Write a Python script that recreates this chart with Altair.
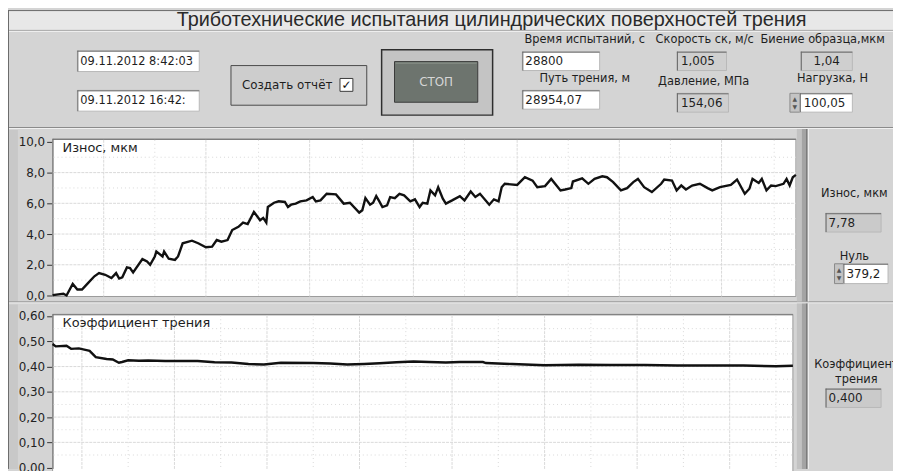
import altair as alt
import pandas as pd

# ---------------- texts / values shown on the panel ----------------
title_text = "Триботехнические испытания цилиндрических поверхностей трения"
start_time = "09.11.2012 8:42:03"
end_time = "09.11.2012 16:42:"
report_label = "Создать отчёт"
stop_label = "СТОП"
test_time_label, test_time_value = "Время испытаний, с", "28800"
path_label, path_value = "Путь трения, м", "28954,07"
speed_label, speed_value = "Скорость ск, м/с", "1,005"
pressure_label, pressure_value = "Давление, МПа", "154,06"
runout_label, runout_value = "Биение образца,мкм", "1,04"
load_label, load_value = "Нагрузка, Н", "100,05"
wear_label = "Износ, мкм"
wear_value = "7,78"
zero_label = "Нуль"
zero_value = "379,2"
friction_label_1 = "Коэффициент"
friction_label_2 = "трения"
friction_title = "Коэффициент трения"
friction_value = "0,400"

# ---------------- series (time in minutes from start) ----------------
wear_time_min = [0, 7, 9, 13, 16, 19, 23, 27, 30, 34, 38, 41, 43, 45, 48, 50, 52, 58, 61, 63,
                 66, 67, 71, 72, 75, 79, 81, 84, 90, 94, 99, 103, 106, 109, 113, 116, 120, 123, 126, 130,
                 134, 136, 138, 139, 143, 146, 150, 152, 154, 157, 160, 164, 168, 170, 173, 177, 183, 188, 192, 198,
                 200, 202, 205, 207, 209, 211, 213, 216, 218, 221, 224, 227, 231, 234, 237, 239, 242, 244, 247, 249,
                 252, 254, 258, 263, 266, 270, 273, 276, 282, 285, 288, 290, 292, 300, 305, 310, 313, 318, 322, 328,
                 331, 335, 336, 342, 346, 350, 355, 358, 362, 367, 371, 375, 378, 382, 387, 393, 395, 400, 403, 406,
                 409, 413, 418, 423, 426, 431, 438, 442, 447, 450, 452, 456, 458, 461, 464, 467, 472, 474, 476, 478, 480]
wear_um = [0.02, 0.11, 0.00, 0.75, 0.39, 0.39, 0.82, 1.25, 1.46, 1.35, 1.14, 1.46, 1.10, 1.18, 1.83, 1.78, 1.50, 2.37, 2.22, 2.00,
           2.54, 2.86, 2.54, 2.86, 2.39, 2.32, 2.54, 3.40, 3.57, 3.40, 3.14, 3.18, 3.61, 3.50, 3.61, 4.26, 4.47, 4.75, 4.65, 5.44,
           4.90, 5.05, 4.75, 5.76, 6.04, 6.13, 6.09, 5.76, 5.91, 5.98, 6.13, 6.19, 6.41, 6.13, 6.19, 6.62, 6.58, 5.98, 6.04, 5.40,
           5.55, 6.34, 5.91, 6.04, 6.47, 6.13, 5.76, 5.87, 6.41, 6.34, 6.62, 6.52, 6.13, 6.26, 5.76, 6.04, 5.98, 6.84, 6.52, 7.05,
           6.30, 5.98, 6.19, 6.47, 6.19, 6.77, 6.41, 6.62, 5.91, 6.26, 6.13, 7.05, 7.27, 7.20, 7.70, 7.48, 7.05, 7.12, 7.59, 6.84,
           6.90, 6.99, 7.42, 7.63, 7.27, 7.59, 7.76, 7.70, 7.38, 6.84, 6.99, 7.38, 7.59, 7.05, 6.73, 7.27, 7.55, 7.48, 6.84, 7.16,
           6.90, 7.16, 7.27, 6.99, 6.84, 7.05, 7.20, 7.55, 6.62, 6.95, 7.59, 7.33, 7.59, 6.84, 7.16, 7.12, 7.27, 7.59, 7.16, 7.70, 7.85]

friction_time_min = [0, 2, 9, 12, 17, 22, 24, 28, 35, 39, 43, 45, 49, 56, 62, 73, 94, 105, 116, 127,
                     137, 148, 169, 180, 191, 202, 212, 223, 234, 244, 255, 264, 279, 281, 298, 319, 341, 362, 384, 405,
                     426, 448, 469, 480]
friction_coef = [0.489, 0.480, 0.482, 0.470, 0.472, 0.465, 0.462, 0.437, 0.430, 0.428, 0.415, 0.418, 0.425, 0.423, 0.424, 0.422,
                 0.422, 0.417, 0.416, 0.410, 0.408, 0.415, 0.414, 0.412, 0.408, 0.410, 0.413, 0.417, 0.420, 0.418, 0.416, 0.418,
                 0.418, 0.414, 0.410, 0.405, 0.407, 0.406, 0.406, 0.404, 0.404, 0.404, 0.401, 0.403]

wear_ticks = [0, 2, 4, 6, 8, 10]
wear_minor = [1, 3, 5, 7, 9]
wear_grid_x = [33, 99, 166, 233, 300, 366, 432]
wear_minor_x = [66, 133, 200, 266, 333, 399, 466]
friction_ticks = [0.0, 0.1, 0.2, 0.3, 0.4, 0.5, 0.6]
friction_minor = [0.05, 0.15, 0.25, 0.35, 0.45, 0.55]
friction_grid_x = [19, 79, 139, 199, 259, 319, 379, 439]
friction_minor_x = [49, 109, 169, 229, 289, 349, 409, 469]

# ---------------- layout helpers (page coords -> chart coords) ----------------
OFF = 8
one = pd.DataFrame({"k": [0]})
UI_FONT = "DejaVu Sans"


def rect(x1, y1, x2, y2, fill, stroke=None, sw=1.0):
    kw = dict(fill=fill)
    if stroke:
        kw.update(stroke=stroke, strokeWidth=sw)
    else:
        kw.update(strokeWidth=0)
    return alt.Chart(one).mark_rect(**kw).encode(
        x=alt.value(x1 - OFF), x2=alt.value(x2 - OFF),
        y=alt.value(y1 - OFF), y2=alt.value(y2 - OFF))


def hline(x1, x2, y, color, sw=1.0):
    return alt.Chart(one).mark_rule(color=color, strokeWidth=sw).encode(
        x=alt.value(x1 - OFF), x2=alt.value(x2 - OFF), y=alt.value(y - OFF))


def vline(x, y1, y2, color, sw=1.0):
    return alt.Chart(one).mark_rule(color=color, strokeWidth=sw).encode(
        x=alt.value(x - OFF), y=alt.value(y1 - OFF), y2=alt.value(y2 - OFF))


def text(x, y, s, size=11.5, align="left", color="#1e1e1e", font=UI_FONT):
    return alt.Chart(one).mark_text(text=s, align=align, baseline="middle", fontSize=size,
                                    font=font, color=color).encode(
        x=alt.value(x - OFF), y=alt.value(y - OFF))


def field(x1, y1, x2, y2, fill="white"):
    return [rect(x1, y1, x2, y2, fill, "#b8b8b8"),
            hline(x1, x2, y1 + 0.5, "#6a6a6a"),
            vline(x1 + 0.5, y1, y2, "#6a6a6a")]


def spinner(x1, y1, x2, y2):
    return [rect(x1, y1, x2, y2, "#c4c4c4", "#8a8a8a"),
            text((x1 + x2) / 2, (y1 + y2) / 2 - 4, "▲", size=6, align="center", color="#555555"),
            text((x1 + x2) / 2, (y1 + y2) / 2 + 4, "▼", size=6, align="center", color="#555555")]


PANEL = "#d4d4d4"
layers = []

# header
layers += [rect(9, 9, 901, 28, "#e8e8e8"),
           hline(8, 901, 8.5, "#6a6a6a"), vline(8.5, 8, 471, "#6a6a6a"),
           hline(9, 901, 28.5, "#a2a2a2"), hline(9, 901, 29.5, "#f2f2f2"),
           hline(9, 901, 126.5, "#8a8a8a"), hline(9, 901, 127.5, "#f0f0f0")]

# left axis strips (slightly darker)
layers += [rect(9, 129, 18, 302, "#c8c8c8"), rect(9, 305, 18, 471, "#c8c8c8")]

# plot frames
layers += [rect(53, 138, 803, 297, "white", "#9a9a9a"),
           hline(53, 803, 138.5, "#707070"), vline(53.5, 138, 297, "#707070"),
           rect(53, 315, 800, 475, "white", "#9a9a9a"),
           hline(53, 800, 315.5, "#707070"), vline(53.5, 315, 471, "#707070")]

# separator between the two plot panels
layers += [hline(9, 901, 302.5, "#8a8a8a"), hline(9, 901, 303.5, "#f0f0f0")]

# right shading strip and right panel
layers += [rect(804, 128, 809, 302, "#c2c2c2"), rect(809, 128, 813, 302, "#a4a4a4"),
           rect(813, 128, 815, 302, "#7c7c7c"), vline(815.5, 128, 302, "#f4f4f4"),
           rect(804, 304, 809, 471, "#c2c2c2"), rect(809, 304, 813, 471, "#a4a4a4"),
           rect(813, 304, 815, 471, "#7c7c7c"), vline(815.5, 304, 471, "#f4f4f4")]

# ---------------- scales ----------------
wear_x = alt.Scale(domain=[0, 480], range=[53 - OFF, 803 - OFF], nice=False, zero=False)
wear_y = alt.Scale(domain=[0, 10], range=[296 - OFF, 141 - OFF], nice=False, zero=False)
fr_x = alt.Scale(domain=[0, 480], range=[53 - OFF, 800 - OFF], nice=False, zero=False)
fr_y = alt.Scale(domain=[0, 0.6], range=[469.7 - OFF, 316.7 - OFF], nice=False, zero=False)

MAJOR = "#dadada"
MINOR = "#d9d9d9"

# wear grid
layers += [
    alt.Chart(pd.DataFrame({"t": wear_minor_x})).mark_rule(color=MINOR, strokeDash=[1, 3]).encode(
        x=alt.X("t:Q", scale=wear_x, axis=None), y=alt.value(139 - OFF), y2=alt.value(297 - OFF)),
    alt.Chart(pd.DataFrame({"v": wear_minor})).mark_rule(color=MINOR, strokeDash=[1, 3]).encode(
        y=alt.Y("v:Q", scale=wear_y, axis=None), x=alt.value(54 - OFF), x2=alt.value(803 - OFF)),
    alt.Chart(pd.DataFrame({"t": wear_grid_x})).mark_rule(color=MAJOR, strokeDash=[3, 1]).encode(
        x=alt.X("t:Q", scale=wear_x, axis=None), y=alt.value(139 - OFF), y2=alt.value(297 - OFF)),
    alt.Chart(pd.DataFrame({"v": wear_ticks[1:-1]})).mark_rule(color=MAJOR, strokeDash=[3, 1]).encode(
        y=alt.Y("v:Q", scale=wear_y, axis=None), x=alt.value(54 - OFF), x2=alt.value(803 - OFF)),
]
# friction grid
layers += [
    alt.Chart(pd.DataFrame({"t": friction_minor_x})).mark_rule(color=MINOR, strokeDash=[1, 3]).encode(
        x=alt.X("t:Q", scale=fr_x, axis=None), y=alt.value(316 - OFF), y2=alt.value(471 - OFF)),
    alt.Chart(pd.DataFrame({"v": friction_minor})).mark_rule(color=MINOR, strokeDash=[1, 3]).encode(
        y=alt.Y("v:Q", scale=fr_y, axis=None), x=alt.value(54 - OFF), x2=alt.value(800 - OFF)),
    alt.Chart(pd.DataFrame({"t": friction_grid_x})).mark_rule(color=MAJOR, strokeDash=[3, 1]).encode(
        x=alt.X("t:Q", scale=fr_x, axis=None), y=alt.value(316 - OFF), y2=alt.value(471 - OFF)),
    alt.Chart(pd.DataFrame({"v": friction_ticks[1:-1]})).mark_rule(color=MAJOR, strokeDash=[3, 1]).encode(
        y=alt.Y("v:Q", scale=fr_y, axis=None), x=alt.value(54 - OFF), x2=alt.value(800 - OFF)),
]

axis_style = dict(orient="left", domain=False, grid=False, tickSize=5, tickColor="#333333",
                  labelPadding=2, labelFont=UI_FONT, labelFontSize=12, labelColor="#222222",
                  labelOverlap=False, title=None, zindex=1)

wear_df = pd.DataFrame({"t": wear_time_min, "v": wear_um})
fr_df = pd.DataFrame({"t": friction_time_min, "v": friction_coef})

layers += [
    alt.Chart(wear_df).mark_line(color="#111111", strokeWidth=2.4, strokeJoin="miter").encode(
        x=alt.X("t:Q", scale=wear_x, axis=None),
        y=alt.Y("v:Q", scale=wear_y,
                axis=alt.Axis(values=wear_ticks, offset=-(52 - OFF),
                              labelExpr="replace(format(datum.value, '.1f'), '.', ',')", **axis_style))),
    alt.Chart(fr_df).mark_line(color="#111111", strokeWidth=2.4).encode(
        x=alt.X("t:Q", scale=fr_x, axis=None),
        y=alt.Y("v:Q", scale=fr_y,
                axis=alt.Axis(values=friction_ticks, offset=-(52 - OFF),
                              labelExpr="replace(format(datum.value, '.2f'), '.', ',')", **axis_style))),
]

# in-plot titles
layers += [text(63, 147, wear_label, size=13), text(63, 324, friction_title, size=13)]

# ---------------- header content ----------------
layers += [text(496, 18, title_text, size=20, align="center", color="#2a2a2a", font="Liberation Sans")]
layers += field(78, 49, 201, 70) + [text(81, 60, start_time, size=11.5)]
layers += field(78, 89, 201, 110) + [text(81, 100, end_time, size=11.5)]
layers += [rect(233, 64, 370, 104, "#cdcdcd", "#4a4a4a"),
           text(244, 84, report_label, size=12),
           rect(343, 77, 356, 90, "white", "#3a3a3a"),
           text(349.5, 83.5, "✓", size=12, align="center", color="#111111")]
layers += [rect(385, 48, 497, 114, "#c4c4c4", "#2e2e2e", 1.5),
           rect(398, 60, 482, 101, "#6d746e", "#3a3a3a"),
           hline(399, 481, 61.5, "#8d948e"),
           text(440, 81, stop_label, size=12, align="center", color="#d6d6d6")]

layers += [text(590, 38, test_time_label, align="center")] + field(527, 50, 605, 69) + [text(530, 59.5, test_time_value, size=12)]
layers += [text(590, 78, path_label, align="center")] + field(527, 89, 605, 108) + [text(530, 98.5, path_value, size=12)]
layers += [text(711, 38, speed_label, align="center")] + field(683, 50, 733, 69, "#cfcfcf") + [text(687, 59.5, speed_value, size=12)]
layers += [text(710, 81, pressure_label, align="center")] + field(683, 92, 735, 111, "#cfcfcf") + [text(687, 101.5, pressure_value, size=12)]
layers += [text(830, 38, runout_label, align="center")] + field(808, 50, 860, 69, "#cfcfcf") + [text(834, 59.5, runout_value, size=12, align="center")]
layers += [text(840, 78, load_label, align="center")] + spinner(797, 92, 807, 111) + field(807, 92, 860, 111) + [text(811, 101.5, load_value, size=12)]

# ---------------- right panel content ----------------
layers += [text(862, 194, wear_label, align="center")] + field(833, 213, 889, 232, "#cacaca") + [text(836, 222.5, wear_value, size=12)]
layers += [text(862, 257, zero_label, align="center")] + spinner(842, 264, 851, 284) + field(851, 264, 896, 284) + [text(854, 274, zero_value, size=12)]
layers += [text(864, 366, friction_label_1, align="center"), text(864, 381, friction_label_2, align="center")]
layers += field(833, 390, 889, 409, "#cacaca") + [text(836, 399.5, friction_value, size=12)]

chart = alt.layer(*layers).resolve_scale(x="independent", y="independent").properties(
    width=893, height=463, padding=0, background=PANEL,
    autosize=alt.AutoSizeParams(type="none"),
).configure_view(stroke="transparent")

chart.save("out.html", embed_options={"renderer": "svg", "actions": False})
